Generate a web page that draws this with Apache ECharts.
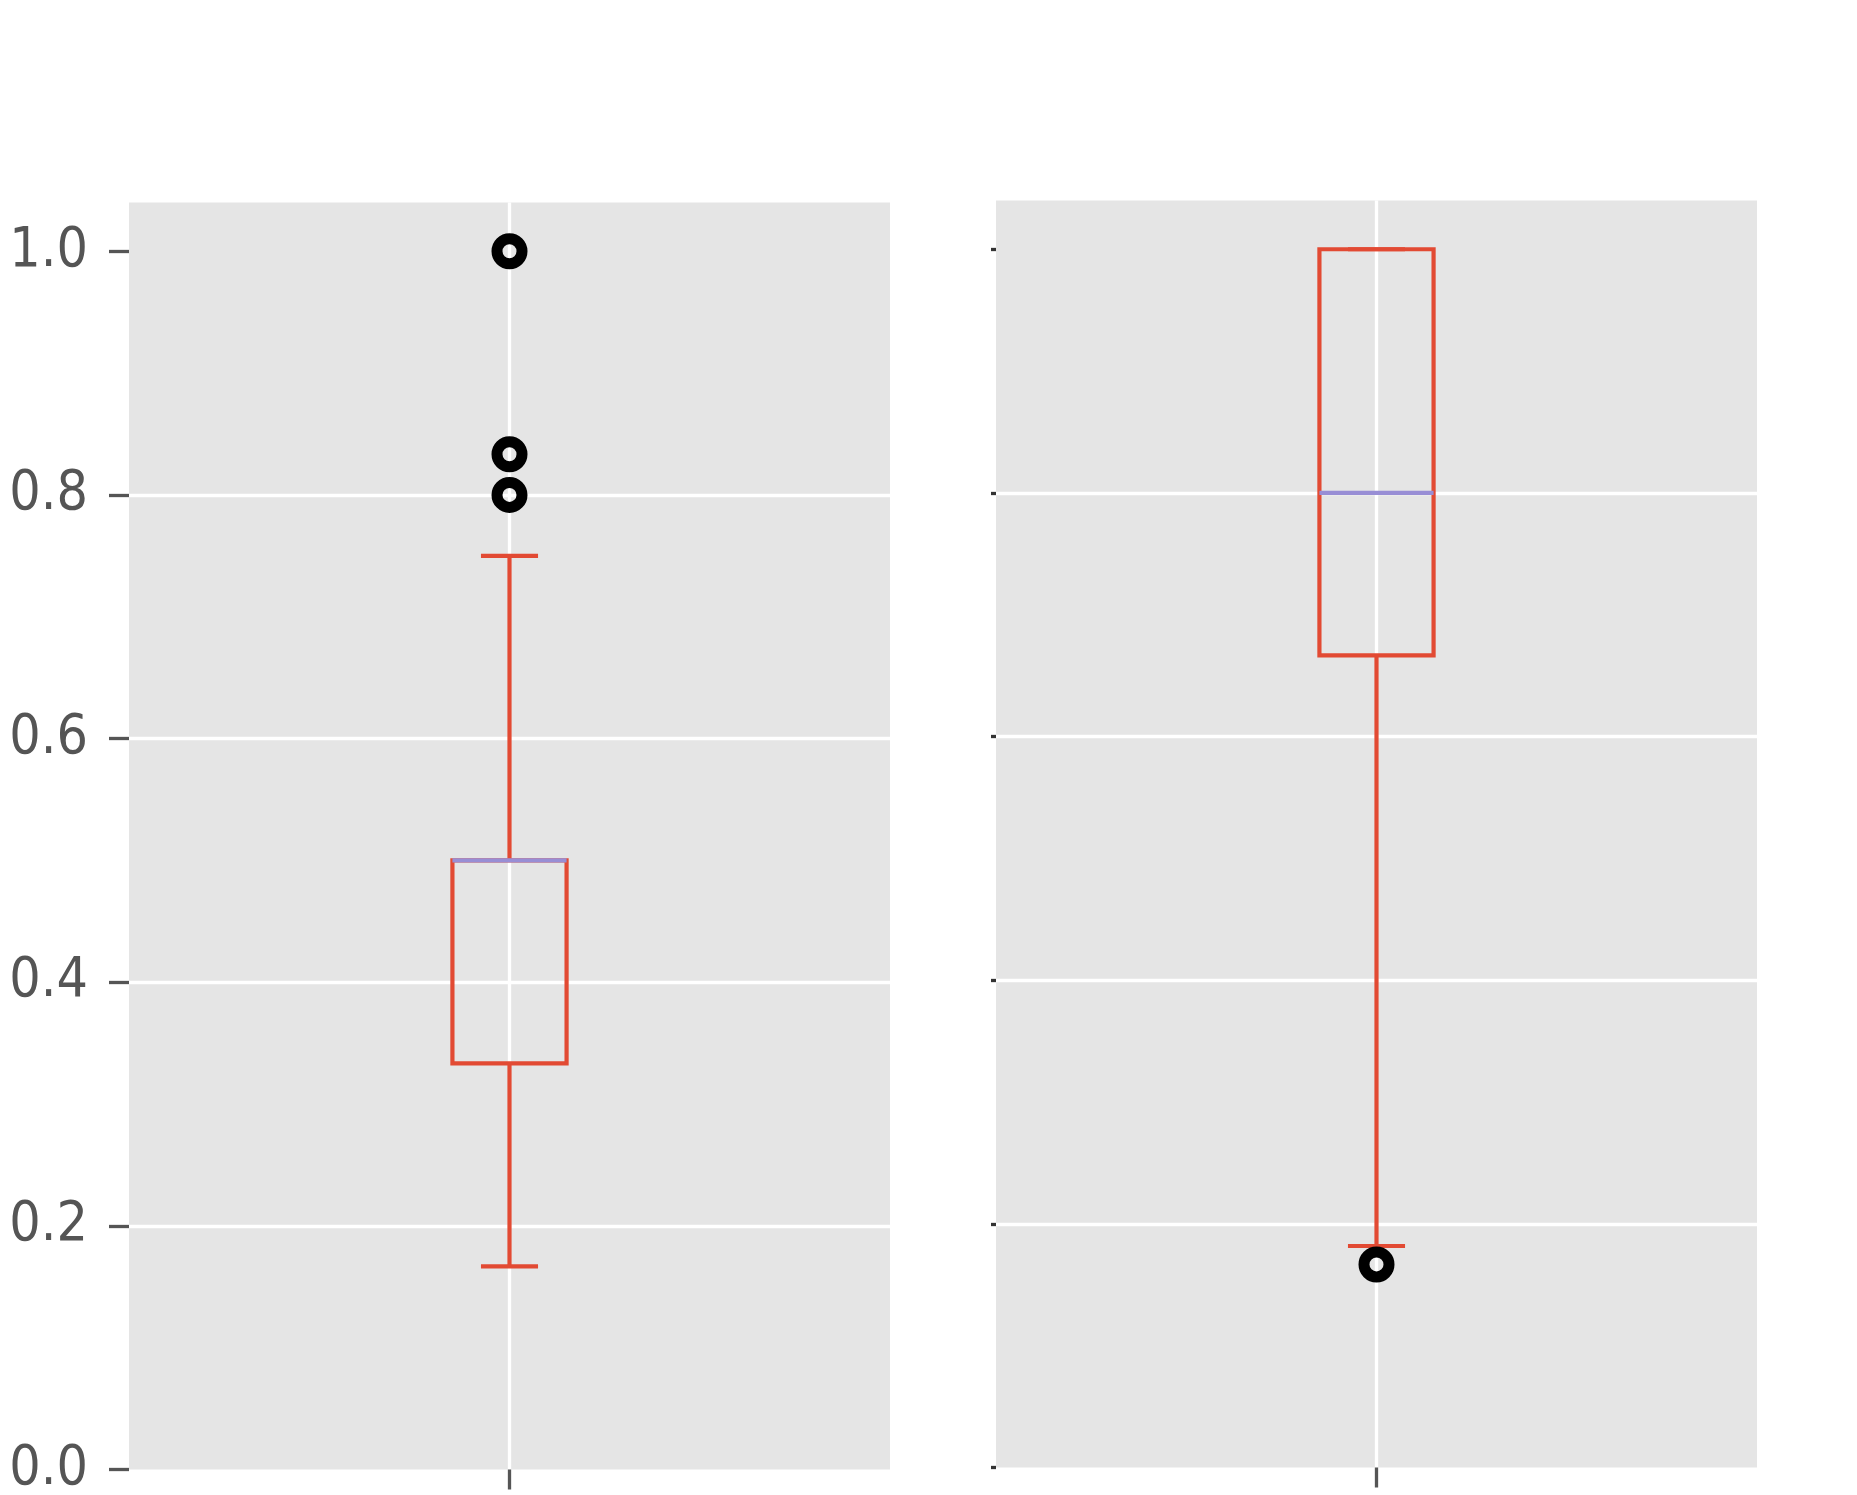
<!DOCTYPE html>
<html>
<head>
<meta charset="utf-8">
<script src="https://cdn.jsdelivr.net/npm/echarts@6/dist/echarts.min.js"></script>
<style>
  html, body { margin: 0; padding: 0; background: #ffffff; }
  #chart { width: 1857px; height: 1495px; }
</style>
</head>
<body>
<div id="chart"></div>
<script>
// ---- data ----
const panels = ['left', 'right'];
const boxPosition = 1;
const whiskerLow  = [0.1667, 0.1818];
const quart1      = [0.3333, 0.6667];
const medians     = [0.5, 0.8];
const quart3      = [0.5, 1.0];
const whiskerHigh = [0.75, 1.0];
const outliers    = [[1.0, 0.8333, 0.8], [0.1667]];
const yTicks      = [0, 0.2, 0.4, 0.6, 0.8, 1.0];
const xTicks      = [1];

// ---- style ----
const BOX_COLOR = '#E24A33';
const MEDIAN_COLOR = '#988ED5';
const GRID_BG = '#E5E5E5';
const TEXT_COLOR = '#555555';
const LW = 4.2;
const BOX_W = 0.15;

const chart = echarts.init(document.getElementById('chart'), null, { renderer: 'canvas' });

const grids = [
  { left: 129, top: 202.5, width: 761, height: 1267 },
  { left: 996, top: 200.5, width: 761, height: 1267 }
].map(g => Object.assign(g, {
  show: true, backgroundColor: GRID_BG, borderWidth: 0, containLabel: false, outerBoundsMode: 'none'
}));

const xAxes = panels.map((p, i) => ({
  type: 'value', gridIndex: i, min: 0.5, max: 1.5, interval: 0.5,
  axisLine: { show: false },
  axisTick: { show: true, customValues: xTicks, length: 20, lineStyle: { color: TEXT_COLOR, width: 3.3 } },
  axisLabel: { show: false, customValues: xTicks },
  splitLine: { show: true, lineStyle: { color: '#ffffff', width: 3.3 } }
}));

const yAxes = panels.map((p, i) => ({
  type: 'value', gridIndex: i, min: 0, max: 1.04, interval: 0.2,
  axisLine: { show: false },
  axisTick: { show: true, customValues: yTicks, length: i === 0 ? 20 : 5,
              lineStyle: { color: i === 0 ? TEXT_COLOR : '#333333', width: 3.3 } },
  axisLabel: {
    show: i === 0, customValues: yTicks, margin: 41,
    color: TEXT_COLOR, fontSize: 55,
    fontFamily: "'DejaVu Sans Condensed', 'DejaVu Sans', sans-serif",
    formatter: v => Number(v).toFixed(1)
  },
  splitLine: { show: true, showMinLine: false, showMaxLine: false, lineStyle: { color: '#ffffff', width: 3.3 } }
}));

function renderBox(params, api) {
  const x = api.value(0);
  const lo = api.value(1), a = api.value(2), m = api.value(3), b = api.value(4), hi = api.value(5);
  const pLo = api.coord([x, lo]);
  const pA = api.coord([x, a]);
  const pM = api.coord([x, m]);
  const pB = api.coord([x, b]);
  const pHi = api.coord([x, hi]);
  const w = api.size([BOX_W, 0])[0];
  const cx = pM[0];
  const st = { stroke: BOX_COLOR, lineWidth: LW, fill: null };
  return {
    type: 'group',
    children: [
      { type: 'line', shape: { x1: cx, y1: pA[1], x2: cx, y2: pLo[1] }, style: st },
      { type: 'line', shape: { x1: cx, y1: pB[1], x2: cx, y2: pHi[1] }, style: st },
      { type: 'line', shape: { x1: cx - w / 4, y1: pLo[1], x2: cx + w / 4, y2: pLo[1] }, style: st },
      { type: 'line', shape: { x1: cx - w / 4, y1: pHi[1], x2: cx + w / 4, y2: pHi[1] }, style: st },
      { type: 'rect', shape: { x: cx - w / 2, y: pB[1], width: w, height: pA[1] - pB[1] },
        style: { stroke: BOX_COLOR, lineWidth: LW, fill: 'none' } },
      { type: 'line', shape: { x1: cx - w / 2, y1: pM[1], x2: cx + w / 2, y2: pM[1] },
        style: { stroke: MEDIAN_COLOR, lineWidth: LW } }
    ]
  };
}

const series = [];
panels.forEach((p, i) => {
  series.push({
    type: 'custom', name: p + '-box', xAxisIndex: i, yAxisIndex: i, clip: false,
    renderItem: renderBox,
    data: [[boxPosition, whiskerLow[i], quart1[i], medians[i], quart3[i], whiskerHigh[i]]],
    z: 3
  });
  series.push({
    type: 'scatter', name: p + '-fliers', xAxisIndex: i, yAxisIndex: i,
    symbol: 'circle', symbolSize: 25,
    itemStyle: { color: 'rgba(0,0,0,0)', borderColor: '#000000', borderWidth: 11, opacity: 1 },
    data: outliers[i].map(v => [boxPosition, v]),
    z: 4, silent: true
  });
});

chart.setOption({
  animation: false,
  backgroundColor: '#ffffff',
  grid: grids,
  xAxis: xAxes,
  yAxis: yAxes,
  series: series
});
</script>
</body>
</html>
